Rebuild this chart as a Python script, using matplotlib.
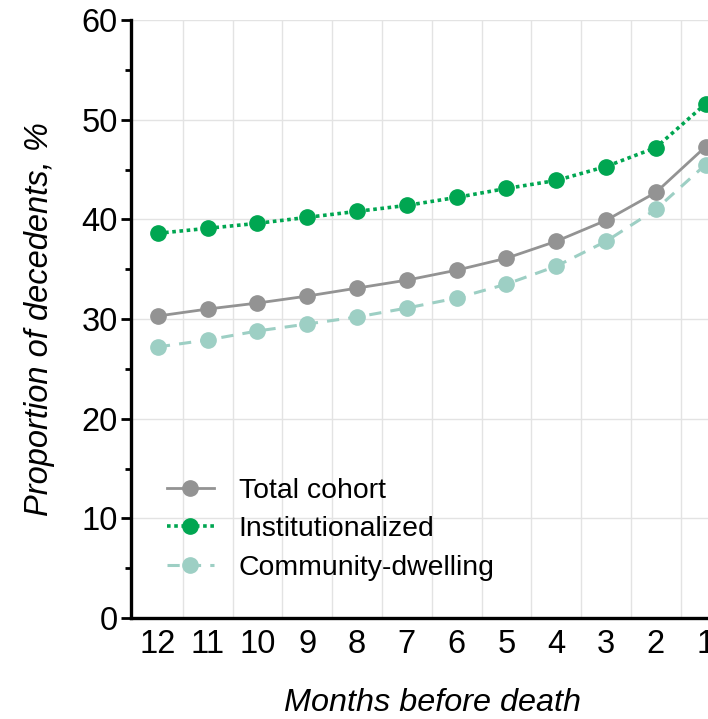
import matplotlib
matplotlib.use("Agg")
import matplotlib.pyplot as plt
from matplotlib.ticker import MultipleLocator, FixedLocator

plt.rcParams['font.family'] = ['Liberation Sans', 'DejaVu Sans']

months = [12, 11, 10, 9, 8, 7, 6, 5, 4, 3, 2, 1]
total = [30.3, 31.0, 31.6, 32.3, 33.1, 33.9, 34.9, 36.1, 37.8, 39.9, 42.7, 47.3]
institutionalized = [38.6, 39.1, 39.6, 40.2, 40.8, 41.4, 42.2, 43.1, 43.9, 45.3, 47.2, 51.6]
community = [27.2, 27.9, 28.8, 29.5, 30.2, 31.1, 32.1, 33.5, 35.3, 37.8, 41.0, 45.5]

W, H = 708, 719
fig = plt.figure(figsize=(W / 100, H / 100), dpi=100)
left, right, bottom, top = 131, 733, 618, 20
ax = fig.add_axes([left / W, 1 - bottom / H, (right - left) / W, (bottom - top) / H])

xs = list(range(len(months)))
ax.plot(xs, total, color='#939393', lw=2.0, marker='o', ms=11, mec='#939393', mfc='#939393',
        label='Total cohort', zorder=4)
ax.plot(xs, institutionalized, color='#00A651', lw=2.6, ls=(0, (1, 1)), marker='o', ms=11,
        mec='#00A651', mfc='#00A651', label='Institutionalized', zorder=4)
ax.plot(xs, community, color='#9DCFC4', lw=2.2, ls=(0, (4, 3)), marker='o', ms=11,
        mec='#9DCFC4', mfc='#9DCFC4', label='Community-dwelling', zorder=3)

ax.set_xlim(-0.54, -0.54 + (right - left) / 49.8)
ax.set_ylim(0, 60)

ax.set_xticks(xs)
ax.set_xticklabels([str(m) for m in months])
ax.xaxis.set_minor_locator(FixedLocator([x + 0.5 for x in xs]))
ax.tick_params(axis='x', which='both', length=0, labelsize=23.5, pad=8)

ax.yaxis.set_major_locator(MultipleLocator(10))
ax.yaxis.set_minor_locator(MultipleLocator(5))
ax.tick_params(axis='y', which='major', length=7.5, width=2, labelsize=23.5, pad=2)
ax.tick_params(axis='y', which='minor', length=4, width=2)

ax.grid(True, which='major', axis='y', color='#e3e3e3', lw=1.0, zorder=0)
ax.grid(True, which='minor', axis='x', color='#e3e3e3', lw=1.0, zorder=0)
ax.set_axisbelow(True)

for s in ['top', 'right']:
    ax.spines[s].set_visible(False)
for s in ['left', 'bottom']:
    ax.spines[s].set_linewidth(2.4)

ax.set_xlabel('Months before death', fontsize=23.3, style='italic', labelpad=20)
ax.set_ylabel('Proportion of decedents, %', fontsize=23.5, style='italic', labelpad=19)

leg = ax.legend(loc='lower left', bbox_to_anchor=(0.017, 0.02), frameon=False, fontsize=20.4,
                handlelength=1.66, handletextpad=0.88, labelspacing=0.44)

fig.savefig('out.png', dpi=100)
